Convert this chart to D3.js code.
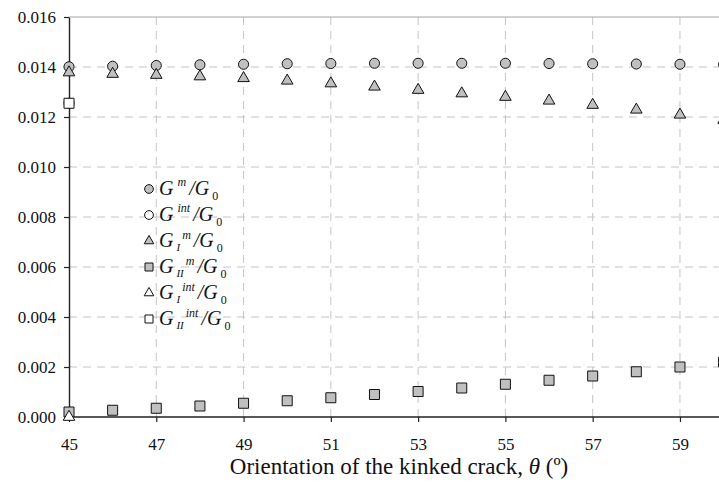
<!DOCTYPE html>
<html>
<head>
<meta charset="utf-8">
<script src="https://cdn.jsdelivr.net/npm/d3@7"></script>
<style>
  body { margin: 0; background: #fff; }
  svg { display: block; }
  svg text { font-family: "Liberation Serif", "DejaVu Serif", serif; }
</style>
</head>
<body>
<div id="chart"></div>
<script>
// angles of the kinked crack (degrees)
const angles = [45, 46, 47, 48, 49, 50, 51, 52, 53, 54, 55, 56, 57, 58, 59, 60];

// energy release rates normalised by G0
const gM   = [0.01401, 0.01403, 0.01406, 0.01409, 0.01411, 0.01413, 0.01414, 0.01415,
              0.01415, 0.01415, 0.01415, 0.01414, 0.01413, 0.01412, 0.01411, 0.01410];
const gIM  = [0.01378, 0.01372, 0.01368, 0.01362, 0.01355, 0.01345, 0.01334, 0.01321,
              0.01308, 0.01294, 0.01280, 0.01265, 0.01248, 0.01229, 0.01209, 0.01188];
const gIIM = [0.00020, 0.00027, 0.00035, 0.00044, 0.00055, 0.00065, 0.00077, 0.00090,
              0.00102, 0.00116, 0.00131, 0.00147, 0.00164, 0.00181, 0.00200, 0.00220];

// interaction-integral results only at 45 deg
const intAngles = [45];
const gInt   = [0.01255];
const gIInt  = [0.0];
const gIIInt = [0.01255];

const xTicks = [45, 47, 49, 51, 53, 55, 57, 59];
const yTicks = [0, 0.002, 0.004, 0.006, 0.008, 0.010, 0.012, 0.014, 0.016];

const W = 719, H = 486;
const margin = { left: 69, top: 17, bottom: 69 };

const svg = d3.select('#chart').append('svg')
  .attr('width', W)
  .attr('height', H);

const x = d3.scaleLinear().domain([45, 60]).range([margin.left, margin.left + 15 * 43.64]);
const y = d3.scaleLinear().domain([0, 0.016]).range([H - margin.bottom, margin.top]);

// grid
const grid = svg.append('g');
grid.selectAll('line.h')
  .data(yTicks.filter(d => d > 0 && d < 0.016))
  .enter().append('line')
  .attr('x1', x(45)).attr('x2', W)
  .attr('y1', d => y(d)).attr('y2', d => y(d))
  .attr('stroke', '#c4c4c4').attr('stroke-dasharray', '8,6');

grid.selectAll('line.v')
  .data(xTicks.filter(d => d > 45))
  .enter().append('line')
  .attr('x1', d => x(d)).attr('x2', d => x(d))
  .attr('y1', y(0.016)).attr('y2', y(0))
  .attr('stroke', '#c4c4c4').attr('stroke-dasharray', '8,6');

// top frame
svg.append('line')
  .attr('x1', x(45)).attr('x2', W)
  .attr('y1', y(0.016)).attr('y2', y(0.016))
  .attr('stroke', '#a8a8a8').attr('stroke-width', 1.2);

// axes
const yAxis = svg.append('g')
  .attr('transform', `translate(${x(45)},0)`)
  .call(d3.axisLeft(y).tickValues(yTicks).tickFormat(d3.format('.3f')).tickSize(5).tickSizeOuter(0).tickPadding(8));

const xAxis = svg.append('g')
  .attr('transform', `translate(0,${y(0)})`)
  .call(d3.axisBottom(x).tickValues(xTicks).tickSize(5).tickSizeOuter(0).tickPadding(16));

[xAxis, yAxis].forEach(a => {
  a.attr('font-family', '"Liberation Serif", "DejaVu Serif", serif').attr('font-size', 17);
  a.select('.domain').attr('stroke', '#222').attr('stroke-width', 1.4);
  a.selectAll('.tick line').attr('stroke', '#222').attr('stroke-width', 1.2);
  a.selectAll('.tick text').attr('fill', '#111');
});
xAxis.select('.domain').attr('d', `M${x(45)},0H${W}`);

// markers
const sym = {
  circle: d3.symbol().type(d3.symbolCircle).size(80),
  triangle: d3.symbol().type(d3.symbolTriangle).size(58),
  square: d3.symbol().type(d3.symbolSquare).size(100)
};

function drawSeries(xs, ys, shape, fill) {
  svg.append('g').selectAll('path')
    .data(xs.map((a, i) => [a, ys[i]]))
    .enter().append('path')
    .attr('d', sym[shape])
    .attr('transform', d => `translate(${x(d[0])},${y(d[1])})`)
    .attr('fill', fill)
    .attr('stroke', '#111')
    .attr('stroke-width', 1);
}

drawSeries(intAngles, gInt, 'circle', '#fff');
drawSeries(angles, gIIM, 'square', '#c0c0c0');
drawSeries(angles, gM, 'circle', '#c0c0c0');
drawSeries(angles, gIM, 'triangle', '#c0c0c0');
drawSeries(intAngles, gIInt, 'triangle', '#fff');
drawSeries(intAngles, gIIInt, 'square', '#fff');

// legend
const legendItems = [
  { shape: 'circle', fill: '#c0c0c0', sub: '', sup: 'm' },
  { shape: 'circle', fill: '#fff', sub: '', sup: 'int' },
  { shape: 'triangle', fill: '#c0c0c0', sub: 'I', sup: 'm' },
  { shape: 'square', fill: '#c0c0c0', sub: 'II', sup: 'm' },
  { shape: 'triangle', fill: '#fff', sub: 'I', sup: 'int' },
  { shape: 'square', fill: '#fff', sub: 'II', sup: 'int' }
];
const legSym = {
  circle: d3.symbol().type(d3.symbolCircle).size(60),
  triangle: d3.symbol().type(d3.symbolTriangle).size(40),
  square: d3.symbol().type(d3.symbolSquare).size(64)
};

const legend = svg.append('g').attr('transform', 'translate(149,189)');
legendItems.forEach((it, i) => {
  const g = legend.append('g').attr('transform', `translate(0,${i * 26})`);
  g.append('path')
    .attr('d', legSym[it.shape])
    .attr('fill', it.fill)
    .attr('stroke', '#111')
    .attr('stroke-width', 1);
  const t = g.append('text')
    .attr('x', 10).attr('y', 6)
    .attr('fill', '#111')
    .style('font-size', '20px');
  t.append('tspan').style('font-style', 'italic').text('G');
  if (it.sub) {
    t.append('tspan').style('font-style', 'italic').style('font-size', '11px')
      .attr('dy', 4).attr('dx', 3).text(it.sub);
    t.append('tspan').style('font-style', 'italic').style('font-size', '12px')
      .attr('dy', -12).attr('dx', 2).text(it.sup);
    t.append('tspan').style('font-style', 'italic')
      .attr('dy', 8).attr('dx', 3).text('/G');
  } else {
    t.append('tspan').style('font-style', 'italic').style('font-size', '12px')
      .attr('dy', -9).attr('dx', 4).text(it.sup);
    t.append('tspan').style('font-style', 'italic')
      .attr('dy', 9).attr('dx', 3).text('/G');
  }
  t.append('tspan').style('font-size', '12px')
    .attr('dy', 5).attr('dx', 3).text('0');
});

// axis title
const title = svg.append('text')
  .attr('x', 399).attr('y', 474)
  .attr('text-anchor', 'middle')
  .attr('fill', '#111')
  .style('font-size', '23px');
title.append('tspan').text('Orientation of the kinked crack, ');
title.append('tspan').style('font-style', 'italic').text('θ');
title.append('tspan').text(' (º)');
</script>
</body>
</html>
